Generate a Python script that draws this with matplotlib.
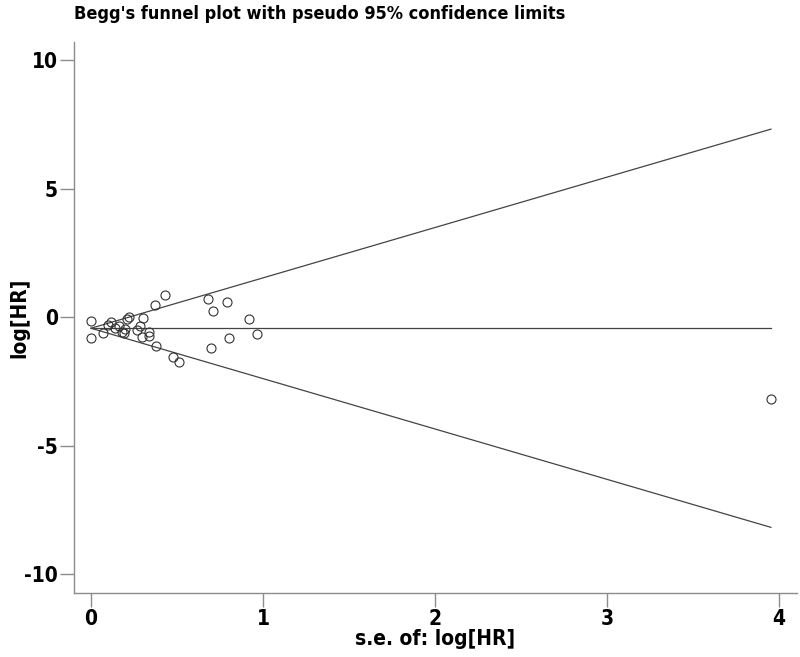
"""
Begg's funnel plot with pseudo 95% confidence limits (log[HR] vs s.e.).
"""
import numpy as np
import matplotlib
matplotlib.use("Agg")
import matplotlib.pyplot as plt

matplotlib.rcParams.update({
    "font.family": ["DejaVu Sans"],
    "font.stretch": "condensed",
    "font.weight": "bold",
    "axes.unicode_minus": False,
})

# study standard errors and log hazard ratios
SE = [0.00, 0.00, 0.07, 0.10, 0.115, 0.14, 0.16, 0.18, 0.19, 0.20,
      0.21, 0.22, 0.27, 0.285, 0.30, 0.295, 0.34, 0.34, 0.37, 0.43,
      0.38, 0.475, 0.51, 0.68, 0.79, 0.71, 0.92, 0.965, 0.80, 0.70,
      3.953]
LOG_HR = [-0.15, -0.82, -0.60, -0.30, -0.20, -0.41, -0.33, -0.56, -0.63, -0.47,
          -0.07, 0.02, -0.50, -0.34, -0.04, -0.76, -0.56, -0.73, 0.47, 0.85,
          -1.12, -1.56, -1.73, 0.71, 0.58, 0.23, -0.08, -0.64, -0.81, -1.21,
          -3.19]
POOLED = -0.43

X_TICKS = [0, 1, 2, 3, 4]
Y_TICKS = [-10, -5, 0, 5, 10]

fig = plt.figure(figsize=(8.0, 6.57), dpi=100)
ax = fig.add_axes([0.0929, 0.0979, 0.9030, 0.8386])

se_max = max(SE)
s = np.array([0.0, se_max])
ax.plot(s, [POOLED, POOLED], color="#444444", lw=0.9)
ax.plot(s, POOLED + 1.96 * s, color="#444444", lw=0.9)
ax.plot(s, POOLED - 1.96 * s, color="#444444", lw=0.9)

ax.plot(SE, LOG_HR, linestyle="none", marker="o", markersize=6.5,
        markerfacecolor="none", markeredgecolor="#333333", markeredgewidth=0.8)

ax.set_xlim(-0.097, 4.103)
ax.set_ylim(-10.72, 10.72)
ax.set_xticks(X_TICKS)
ax.set_yticks(Y_TICKS)

for side in ("top", "right"):
    ax.spines[side].set_visible(False)
for side in ("left", "bottom"):
    ax.spines[side].set_color("#8c8c8c")
    ax.spines[side].set_linewidth(1.0)
ax.tick_params(axis="both", direction="out", length=10, width=1.0,
               color="#8c8c8c", labelsize=15, pad=2)
for lbl in ax.get_xticklabels() + ax.get_yticklabels():
    lbl.set_fontweight("bold")

ax.set_xlabel("s.e. of: log[HR]", fontsize=15, fontweight="bold", labelpad=0)
fig.text(0.024, 0.517, "log[HR]", fontsize=15, fontweight="bold",
         rotation=90, ha="center", va="center")
fig.text(0.093, 0.978, "Begg's funnel plot with pseudo 95% confidence limits",
         fontsize=13, fontweight="bold", ha="left", va="center")

fig.savefig("out.png", dpi=100)
